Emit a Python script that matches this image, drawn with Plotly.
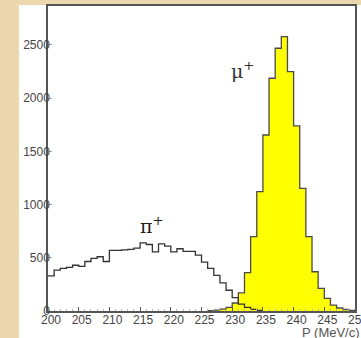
import plotly.graph_objects as go

# ---- data (1 MeV/c bins) ----
bin_width = 1.0
pion_start = 200
pion_counts = [330, 385, 400, 410, 430, 420, 465, 495, 510, 465,
               570, 570, 575, 580, 590, 640, 625, 555, 630, 610,
               555, 585, 560, 560, 525, 460, 400, 335, 265, 195,
               125, 65, 35, 15, 5]
muon_start = 226
muon_counts = [3, 8, 18, 35, 75, 170, 360, 698, 1121, 1654,
               2187, 2469, 2578, 2249, 1740, 1153, 698, 369, 213, 119,
               56, 28, 14, 6]
x_ticks = [200, 205, 210, 215, 220, 225, 230, 235, 240, 245, 250]
y_ticks = [0, 500, 1000, 1500, 2000, 2500]


def step_xy(start, counts):
    xs = [start + i * bin_width for i in range(len(counts) + 1)]
    ys = list(counts) + [counts[-1]]
    return xs, ys


mx, my = step_xy(muon_start, muon_counts)
px, py = step_xy(pion_start, pion_counts)

fig = go.Figure()
fig.add_trace(go.Scatter(x=mx, y=my, mode="lines", line_shape="hv",
                         fill="tozeroy", fillcolor="#FFFF00",
                         line=dict(color="#4a4a4a", width=1.3),
                         hoverinfo="skip", showlegend=False))
fig.add_trace(go.Scatter(x=px, y=py, mode="lines", line_shape="hv",
                         line=dict(color="#333333", width=1.3),
                         hoverinfo="skip", showlegend=False))

fig.update_layout(
    width=361, height=338,
    margin=dict(l=48, r=6, t=6, b=27, autoexpand=False),
    paper_bgcolor="#EBD8AE",
    plot_bgcolor="white",
    font=dict(family="Liberation Sans, Arial, sans-serif", color="#444444"),
    shapes=[dict(type="rect", xref="paper", yref="paper",
                 x0=-0.0945, x1=1.03, y0=-0.12, y1=1.0033,
                 fillcolor="white", line=dict(width=0), layer="below")],
    annotations=[
        dict(x=231.7, y=2265, xref="x", yref="y", text="μ<sup>+</sup>",
             showarrow=False, font=dict(family="DejaVu Serif, serif", size=19, color="#333333")),
        dict(x=217.0, y=810, xref="x", yref="y", text="π<sup>+</sup>",
             showarrow=False, font=dict(family="DejaVu Serif, serif", size=19, color="#222222")),
        dict(x=0.821, y=-0.072, xref="paper", yref="paper", text="P (MeV/c)",
             xanchor="left", yanchor="middle", showarrow=False,
             font=dict(size=13, color="#555555")),
    ],
)

fig.update_xaxes(range=[200, 250], tickvals=x_ticks, ticktext=[str(v) for v in x_ticks],
                 ticks="inside", ticklen=4, tickcolor="#555555",
                 minor=dict(ticks="inside", ticklen=2, dtick=1, tickcolor="#bbbbbb"),
                 showline=True, linecolor="#555555", linewidth=1.5, mirror=True,
                 showgrid=False, zeroline=False, ticklabelshift=3, ticklabelstandoff=-3,
                 ticklabeloverflow="allow", automargin=False,
                 tickfont=dict(size=12, color="#444444"))
fig.update_yaxes(range=[0, 2866], tickvals=y_ticks, ticktext=[str(v) for v in y_ticks],
                 ticks="inside", ticklen=4, tickcolor="#aaaaaa",
                 showline=True, linecolor="#555555", linewidth=1.5, mirror=True,
                 showgrid=False, zeroline=False, ticklabelstandoff=-6, automargin=False,
                 ticklabeloverflow="allow",
                 tickfont=dict(size=12, color="#444444"))

fig.write_html("out.html", config={"displayModeBar": False},
               post_script="document.body.style.margin='0px';document.body.style.padding='0px';")
